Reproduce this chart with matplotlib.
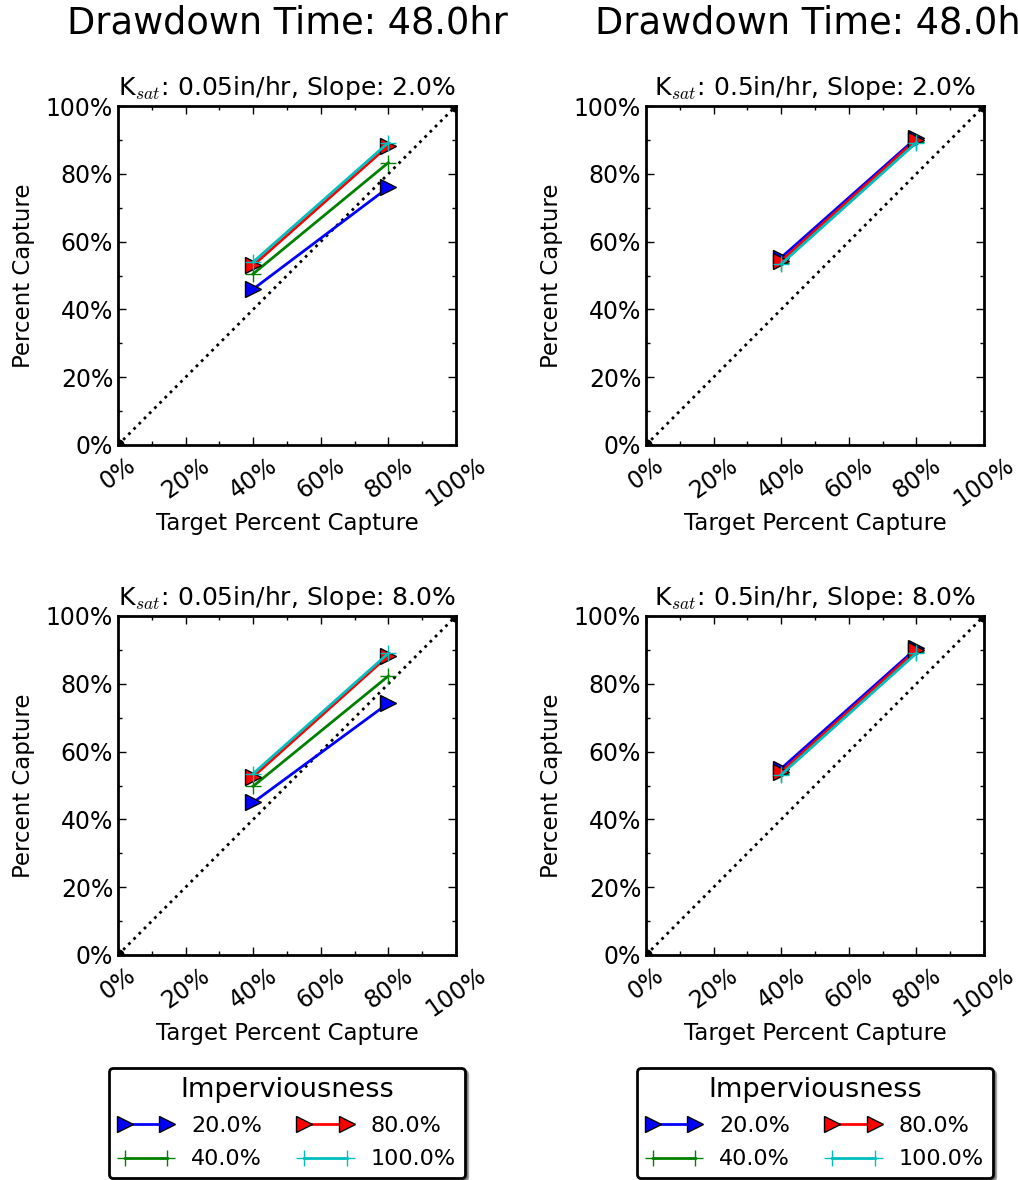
import numpy as np
import matplotlib
matplotlib.use('Agg')
import matplotlib.pyplot as plt
from matplotlib.ticker import MultipleLocator, FuncFormatter

plt.rcParams['font.family'] = 'DejaVu Sans'
plt.rcParams['mathtext.fontset'] = 'cm'
plt.rcParams['xtick.direction'] = 'in'
plt.rcParams['ytick.direction'] = 'in'
plt.rcParams['xtick.top'] = True
plt.rcParams['ytick.right'] = True

################     Data    ####################
drawdown = 48.0
ksat = [0.05, 0.5]          # columns
slopes = [2.0, 8.0]         # rows
imperv = [20.0, 40.0, 80.0, 100.0]
target = [40, 80]

# capture[(ksat, slope)][imperv] -> values at target 40 and 80
capture = {
    (0.05, 2.0): {20.0: [46.0, 76.0], 40.0: [50.5, 83.3], 80.0: [53.0, 88.3], 100.0: [54.0, 89.2]},
    (0.5, 2.0):  {20.0: [55.3, 90.6], 40.0: [53.6, 89.5], 80.0: [54.3, 90.1], 100.0: [53.4, 89.2]},
    (0.05, 8.0): {20.0: [45.0, 74.3], 40.0: [49.8, 82.3], 80.0: [52.6, 88.3], 100.0: [53.5, 89.0]},
    (0.5, 8.0):  {20.0: [55.0, 90.5], 40.0: [53.4, 89.3], 80.0: [54.0, 89.9], 100.0: [53.2, 89.0]},
}

styles = {20.0: dict(color='b', marker='>', ms=11, mec='k'),
          40.0: dict(color='g', marker='+', ms=12, mew=1),
          80.0: dict(color='r', marker='>', ms=11, mec='k'),
          100.0: dict(color='c', marker='+', ms=12, mew=1)}

pct = FuncFormatter(lambda v, p: '%d%%' % v)

################     Plot    ####################
fig = plt.figure(figsize=(10.18, 11.8), dpi=100)
W, H = 1018., 1180.
lefts = [118, 646]
tops = [106, 616]
size = 338

for r, slope in enumerate(slopes):
    for c, k in enumerate(ksat):
        ax = fig.add_axes([lefts[c] / W, 1 - (tops[r] + size + 1) / H, size / W, (size + 1) / H])
        ax.plot([0, 100], [0, 100], 'k:', marker='o', ms=8, lw=2, zorder=1)
        for imp in imperv:
            ax.plot(target, capture[(k, slope)][imp], lw=2, label='%.1f%%' % imp, **styles[imp])
        ax.set_xlim(0, 100)
        ax.set_ylim(0, 100)
        ax.xaxis.set_major_locator(MultipleLocator(20))
        ax.yaxis.set_major_locator(MultipleLocator(20))
        ax.xaxis.set_minor_locator(MultipleLocator(10))
        ax.yaxis.set_minor_locator(MultipleLocator(10))
        ax.xaxis.set_major_formatter(pct)
        ax.yaxis.set_major_formatter(pct)
        ax.tick_params(which='major', length=6, width=1, labelsize=17)
        ax.tick_params(which='minor', length=3, width=1)
        ax.tick_params(axis='x', which='major', pad=6)
        for lbl in ax.get_xticklabels():
            lbl.set_rotation(35)
            lbl.set_ha('center')
            lbl.set_va('top')
        for sp in ax.spines.values():
            sp.set_linewidth(2)
        ax.set_xlabel('Target Percent Capture', fontsize=16.5, labelpad=0)
        ax.set_ylabel('Percent Capture', fontsize=16.5, labelpad=8)
        ax.set_title('K$_{sat}$: %sin/hr, Slope: %.1f%%' % (k, slope), fontsize=18, pad=8)
        if r == 0:
            fig.text((lefts[c] + size / 2) / W, 1 - 23 / H, 'Drawdown Time: %.1fhr' % drawdown,
                     fontsize=26.5, ha='center', va='center')
        if r == 1:
            leg = ax.legend(loc='upper center', bbox_to_anchor=(0.5, -0.333), ncol=2,
                            numpoints=2, fontsize=16, title='Imperviousness',
                            title_fontsize=19.5, shadow=True, fancybox=True,
                            borderaxespad=0, columnspacing=1.6, handlelength=2.5,
                            handletextpad=0.8, labelspacing=0.6)
            leg.get_frame().set_edgecolor('k')
            leg.get_frame().set_linewidth(2)

fig.savefig('out.png', dpi=100, facecolor='white')
